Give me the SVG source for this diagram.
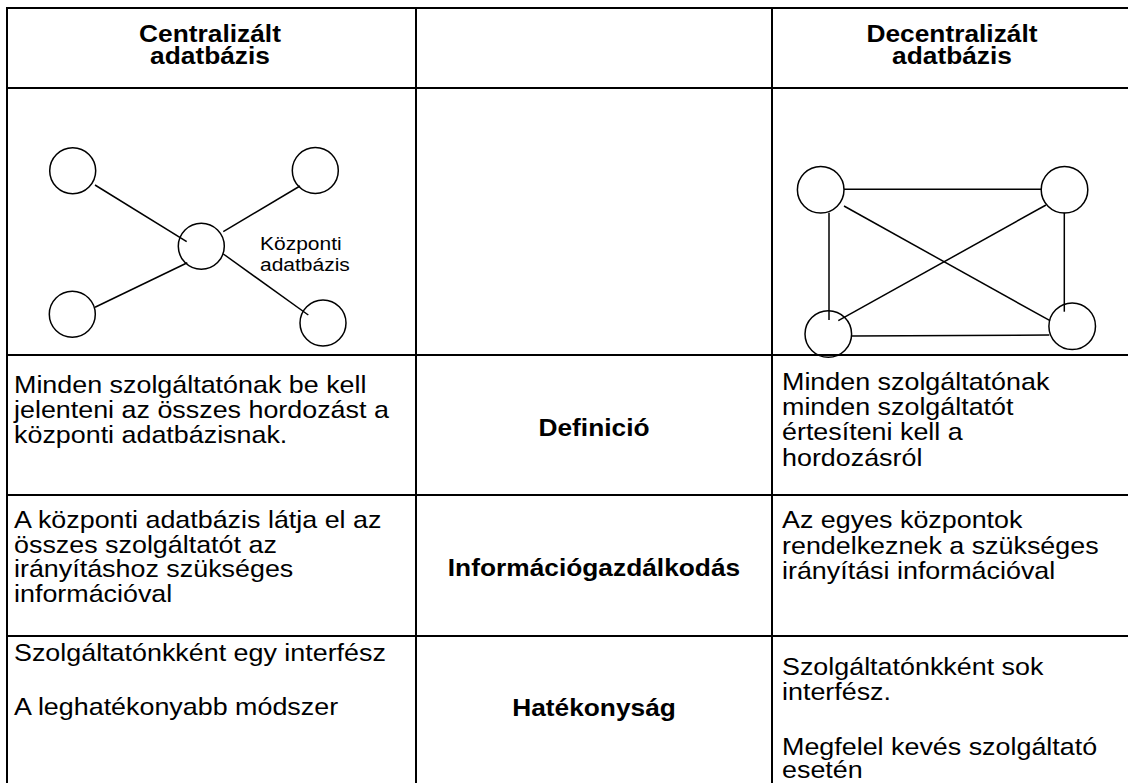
<svg xmlns="http://www.w3.org/2000/svg" width="1128" height="783" viewBox="0 0 1128 783">
  <style>
    .grid { stroke: #000; stroke-width: 2; fill: none; }
    .node { stroke: #000; stroke-width: 1.5; fill: none; }
    .link { stroke: #000; stroke-width: 1.5; fill: none; }
    .hd { font-family: "Liberation Sans", Arial, sans-serif; font-weight: bold; font-size: 23.5px; fill: #000; text-anchor: middle; }
    .tx { font-family: "Liberation Sans", Arial, sans-serif; font-size: 24px; fill: #000; }
    .lb { font-family: "Liberation Sans", Arial, sans-serif; font-size: 18.75px; fill: #000; }
  </style>
  <rect x="0" y="0" width="1128" height="783" fill="#fff"/>

  <!-- table grid -->
  <g id="table-grid" class="grid">
    <line x1="7" y1="8" x2="1128" y2="8"/>
    <line x1="7" y1="88" x2="1128" y2="88"/>
    <line x1="7" y1="355" x2="1128" y2="355"/>
    <line x1="7" y1="495" x2="1128" y2="495"/>
    <line x1="7" y1="636" x2="1128" y2="636"/>
    <line x1="7" y1="7" x2="7" y2="783"/>
    <line x1="416" y1="7" x2="416" y2="783"/>
    <line x1="772" y1="7" x2="772" y2="783"/>
  </g>

  <!-- column headers -->
  <g id="header-centralized">
    <text class="hd" transform="translate(210 41.5) scale(1.12 1)"><tspan x="0" y="0">Centralizált</tspan><tspan x="0" y="23">adatbázis</tspan></text>
  </g>
  <g id="header-decentralized">
    <text class="hd" transform="translate(952 41.5) scale(1.12 1)"><tspan x="0" y="0">Decentralizált</tspan><tspan x="0" y="23">adatbázis</tspan></text>
  </g>

  <!-- centralized: star around the central database -->
  <g id="central-links" class="link">
    <line x1="95" y1="185" x2="186.7" y2="241.7"/>
    <line x1="300" y1="186" x2="223.3" y2="231.7"/>
    <line x1="95" y1="307.3" x2="187.3" y2="262.7"/>
    <line x1="223.3" y1="254" x2="308.3" y2="315"/>
  </g>
  <g id="c-node-tl"><circle class="node" cx="72.7" cy="170.7" r="23"/></g>
  <g id="c-node-tr"><circle class="node" cx="315.3" cy="170.5" r="23"/></g>
  <g id="c-node-hub"><circle class="node" cx="201.3" cy="246.3" r="23"/></g>
  <g id="c-node-bl"><circle class="node" cx="72.3" cy="314.2" r="23"/></g>
  <g id="c-node-br"><circle class="node" cx="323" cy="323" r="23"/></g>
  <g id="c-hub-label">
    <text class="lb" transform="translate(260 250) scale(1.12 1)"><tspan x="0" y="0">Központi</tspan><tspan x="0" y="21.5">adatbázis</tspan></text>
  </g>

  <!-- decentralized: full mesh of four nodes -->
  <g id="mesh-links" class="link">
    <line x1="844" y1="189.3" x2="1041.7" y2="189.3"/>
    <line x1="844" y1="206" x2="1050" y2="320.7"/>
    <line x1="1046" y1="205" x2="838.3" y2="320.7"/>
    <line x1="829" y1="212.7" x2="829" y2="320"/>
    <line x1="1064.3" y1="212.7" x2="1064.3" y2="311.7"/>
    <line x1="851.7" y1="336" x2="1049.3" y2="335"/>
  </g>
  <g id="d-node-tl"><circle class="node" cx="820.7" cy="189.7" r="23.3"/></g>
  <g id="d-node-tr"><circle class="node" cx="1064.5" cy="189.7" r="23.3"/></g>
  <g id="d-node-bl"><circle class="node" cx="828.3" cy="334" r="23.3"/></g>
  <g id="d-node-br"><circle class="node" cx="1072.2" cy="326.3" r="23.3"/></g>

  <!-- row: definition -->
  <g id="def-left">
    <text class="tx" transform="translate(14 393.3) scale(1.12 1)"><tspan x="0" y="0">Minden szolgáltatónak be kell</tspan><tspan x="0" y="25">jelenteni az összes hordozást a</tspan><tspan x="0" y="50">központi adatbázisnak.</tspan></text>
  </g>
  <g id="def-label">
    <text class="hd" transform="translate(594 436) scale(1.12 1)">Definició</text>
  </g>
  <g id="def-right">
    <text class="tx" transform="translate(782 389.5) scale(1.12 1)"><tspan x="0" y="0">Minden szolgáltatónak</tspan><tspan x="0" y="25.5">minden szolgáltatót</tspan><tspan x="0" y="51">értesíteni kell a</tspan><tspan x="0" y="76.5">hordozásról</tspan></text>
  </g>

  <!-- row: information management -->
  <g id="info-left">
    <text class="tx" transform="translate(14 528.3) scale(1.12 1)"><tspan x="0" y="0">A központi adatbázis látja el az</tspan><tspan x="0" y="24.5">összes szolgáltatót az</tspan><tspan x="0" y="49">irányításhoz szükséges</tspan><tspan x="0" y="73.5">információval</tspan></text>
  </g>
  <g id="info-label">
    <text class="hd" transform="translate(594 576) scale(1.12 1)">Információgazdálkodás</text>
  </g>
  <g id="info-right">
    <text class="tx" transform="translate(782 528.3) scale(1.12 1)"><tspan x="0" y="0">Az egyes központok</tspan><tspan x="0" y="25.5">rendelkeznek a szükséges</tspan><tspan x="0" y="51">irányítási információval</tspan></text>
  </g>

  <!-- row: efficiency -->
  <g id="eff-left">
    <text class="tx" transform="translate(14 661) scale(1.12 1)"><tspan x="0" y="0">Szolgáltatónkként egy interfész</tspan><tspan x="0" y="54">A leghatékonyabb módszer</tspan></text>
  </g>
  <g id="eff-label">
    <text class="hd" transform="translate(594 716) scale(1.12 1)">Hatékonyság</text>
  </g>
  <g id="eff-right">
    <text class="tx" transform="translate(782 675) scale(1.12 1)"><tspan x="0" y="0">Szolgáltatónkként sok</tspan><tspan x="0" y="25">interfész.</tspan><tspan x="0" y="80">Megfelel kevés szolgáltató</tspan><tspan x="0" y="103.5">esetén</tspan></text>
  </g>
</svg>
